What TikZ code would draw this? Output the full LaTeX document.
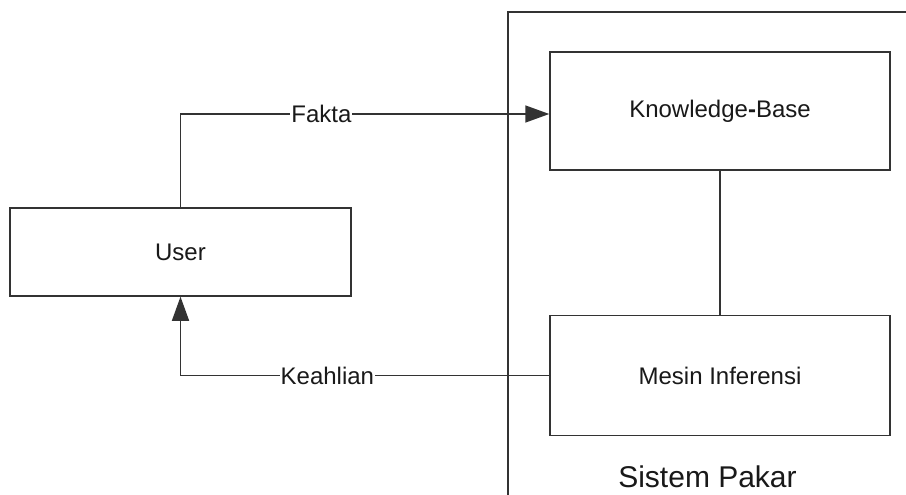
\documentclass[tikz,border=0pt]{standalone}
\usepackage{fontspec}
\setmainfont{Liberation Sans}
\usetikzlibrary{arrows.meta}
\begin{document}
\begin{tikzpicture}[x=1pt,y=-1pt,
  line/.style={draw=black!80,line width=1.5pt},
  box/.style={line,rectangle,inner sep=0pt,font=\fontsize{24}{28}\selectfont,text=black!90},
  lbl/.style={fill=white,inner sep=1pt,font=\fontsize{24}{28}\selectfont,text=black!90},
  arr/.style={line,-{Triangle[length=24pt,width=17pt]}}]
\useasboundingbox (0,0) rectangle (906,495);
\fill[white] (0,0) rectangle (906,495);
\coordinate (frameTR) at (906,12);
\coordinate (frameTL) at (508,12);
\coordinate (frameBL) at (508,495);
\draw[line] (frameTR) -- (frameTL) -- (frameBL);
\node[box,minimum width=340pt,minimum height=118pt] (KB) at (720,111) {Knowledge\textbf{-}Base};
\node[box,minimum width=340pt,minimum height=120pt] (MI) at (720,375.5) {Mesin Inferensi};
\node[box,minimum width=341pt,minimum height=88pt] (U) at (180.5,252) {User};
\draw[line] (KB.south) -- (MI.north);
\draw[arr] (U.north) |- ([yshift=-3pt]KB.west) node[lbl,pos=0.691] (fakta) {Fakta};
\draw[arr] (MI.west) -| (U.south) node[lbl,pos=0.3008] (keahlian) {Keahlian};
\node[font=\fontsize{30}{34}\selectfont,text=black!90,anchor=base] (sp) at (707.5,487) {Sistem Pakar};
\end{tikzpicture}
\end{document}
